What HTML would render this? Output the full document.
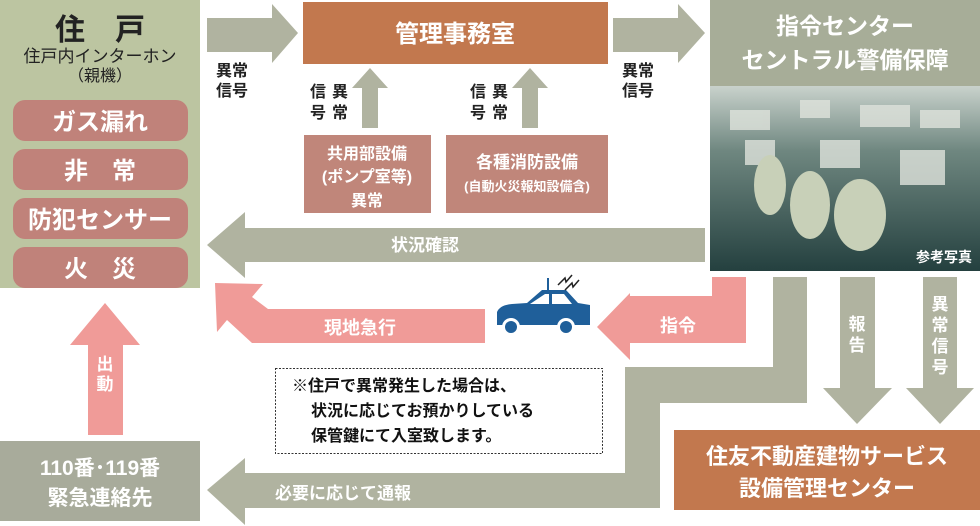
<!DOCTYPE html>
<html><head><meta charset="utf-8"><style>
html,body{margin:0;padding:0;background:#fff;}
svg{display:block;}
text{font-family:"Liberation Sans","Noto Sans CJK JP",sans-serif;font-weight:bold;}
</style></head><body>
<svg width="980" height="526" viewBox="0 0 980 526" xmlns="http://www.w3.org/2000/svg">
<defs>
<linearGradient id="ph" x1="0" y1="0" x2="0" y2="1">
<stop offset="0" stop-color="#c9d2cc"/><stop offset="0.35" stop-color="#6f8780"/><stop offset="1" stop-color="#24403f"/>
</linearGradient>
</defs>
<rect x="0" y="0" width="200" height="288" fill="#bcc5a1"/>
<text x="100" y="40" font-size="30" text-anchor="middle" fill="#222">住　戸</text>
<text x="100" y="62" font-size="17" text-anchor="middle" fill="#222" style="font-weight:normal">住戸内インターホン</text>
<text x="100" y="81" font-size="16" text-anchor="middle" fill="#222" style="font-weight:normal">（親機）</text>
<g fill="#c0827a">
<rect x="13" y="100" width="175" height="41" rx="12"/>
<rect x="13" y="149" width="175" height="41" rx="12"/>
<rect x="13" y="198" width="175" height="41" rx="12"/>
<rect x="13" y="247" width="175" height="41" rx="12"/>
</g>
<g fill="#fff" font-size="24" text-anchor="middle">
<text x="100" y="130">ガス漏れ</text>
<text x="100" y="179">非　常</text>
<text x="100" y="228">防犯センサー</text>
<text x="100" y="277">火　災</text>
</g>
<g fill="#b0b3a0">
<polygon points="207,18 272,18 272,4 298,33 272,63 272,52 207,52"/>
<polygon points="613,18 678,18 678,4 705,33 678,63 678,52 613,52"/>
<polygon points="362,128 362,88 352,88 370,68 388,88 378,88 378,128"/>
<polygon points="522,128 522,88 512,88 530,68 548,88 538,88 538,128"/>
<polygon points="705,228 245,228 245,212 207,245 245,278 245,262 705,262"/>
<polygon points="773,277 807,277 807,403 660,403 660,508 245,508 245,525 207,490 245,458 245,473 625,473 625,367 773,367"/>
<polygon points="840,277 875,277 875,388 892,388 857,424 823,388 840,388"/>
<polygon points="923,277 957,277 957,388 974,388 940,424 906,388 923,388"/>
</g>
<g font-size="16" fill="#222">
<text x="216" y="76">異常</text><text x="216" y="96">信号</text>
<text x="622" y="76">異常</text><text x="622" y="96">信号</text>
<text x="310" y="97">信</text><text x="332" y="97">異</text>
<text x="310" y="118">号</text><text x="332" y="118">常</text>
<text x="470" y="97">信</text><text x="492" y="97">異</text>
<text x="470" y="118">号</text><text x="492" y="118">常</text>
</g>
<rect x="303" y="2" width="305" height="62" fill="#c2784e"/>
<text x="455" y="42" font-size="24" fill="#fff" text-anchor="middle">管理事務室</text>
<rect x="304" y="135" width="127" height="78" fill="#c0867a"/>
<g fill="#fff" font-size="16" text-anchor="middle">
<text x="367" y="159">共用部設備</text>
<text x="367" y="182">(ポンプ室等)</text>
<text x="367" y="206">異常</text>
</g>
<rect x="446" y="135" width="162" height="78" fill="#c0867a"/>
<text x="527" y="168" fill="#fff" font-size="17" text-anchor="middle">各種消防設備</text>
<text x="527" y="191" fill="#fff" font-size="13" text-anchor="middle">(自動火災報知設備含)</text>
<text x="425" y="251" fill="#fff" font-size="17" text-anchor="middle">状況確認</text>
<rect x="710" y="0" width="270" height="86" fill="#a7ad98"/>
<text x="845" y="34" font-size="23" fill="#fff" text-anchor="middle">指令センター</text>
<text x="845" y="68" font-size="23" fill="#fff" text-anchor="middle">セントラル警備保障</text>
<rect x="710" y="86" width="270" height="185" fill="url(#ph)"/>
<g fill="#dfe3dc" opacity="0.8">
<rect x="730" y="110" width="40" height="20"/><rect x="800" y="100" width="30" height="18"/><rect x="860" y="105" width="50" height="22"/><rect x="920" y="110" width="40" height="18"/>
<rect x="745" y="140" width="30" height="25"/><rect x="820" y="140" width="40" height="28"/><rect x="900" y="150" width="45" height="35"/>
</g>
<g fill="#c8d0b8"><ellipse cx="770" cy="185" rx="16" ry="30"/><ellipse cx="810" cy="205" rx="20" ry="34"/><ellipse cx="860" cy="215" rx="26" ry="36"/></g>
<text x="972" y="262" font-size="14" fill="#fff" text-anchor="end">参考写真</text>
<g fill="#f09b98">
<polygon points="215,283 263,284 252,297 268,309 485,309 485,343 252,343 227,320 217,332"/>
<polygon points="712,277 746,277 746,343 630,343 630,360 597,327 630,293 630,296 712,296"/>
<polygon points="88,435 123,435 123,345 140,345 105,303 70,345 88,345"/>
</g>
<text x="360" y="334" fill="#fff" font-size="18" text-anchor="middle">現地急行</text>
<text x="678" y="332" fill="#fff" font-size="18" text-anchor="middle">指令</text>
<text fill="#fff" font-size="17" text-anchor="middle"><tspan x="105" y="370">出</tspan><tspan x="105" y="390">動</tspan></text>
<text fill="#fff" font-size="17" text-anchor="middle"><tspan x="857" y="330">報</tspan><tspan x="857" y="351">告</tspan></text>
<text fill="#fff" font-size="17" text-anchor="middle"><tspan x="940" y="310">異</tspan><tspan x="940" y="331">常</tspan><tspan x="940" y="352">信</tspan><tspan x="940" y="373">号</tspan></text>
<g fill="#1f5f9a">
<path d="M497,325 L497,312 Q500,305 512,304 L527,303 L542,290 L566,290 L578,303 L590,305 L590,325 Z"/>
<line x1="548" y1="290" x2="548" y2="278" stroke="#1f5f9a" stroke-width="2"/>
</g>
<polygon points="530,304 545,294 549,294 549,304" fill="#fff"/>
<polygon points="552,294 564,294 572,304 552,304" fill="#fff"/>
<circle cx="511" cy="327" r="9" fill="#fff"/><circle cx="511" cy="327" r="6" fill="#1f5f9a"/>
<circle cx="566" cy="327" r="9" fill="#fff"/><circle cx="566" cy="327" r="6" fill="#1f5f9a"/>
<path d="M558,285 L565,278 L566,282 L572,275 M565,290 L572,283 L573,287 L579,280" stroke="#222" stroke-width="1.5" fill="none"/>
<rect x="275.5" y="368.5" width="327" height="85" fill="#fff" stroke="#333" stroke-width="1" stroke-dasharray="2,1.5"/>
<g font-size="16" fill="#111">
<text x="292" y="391">※住戸で異常発生した場合は、</text>
<text x="311" y="416">状況に応じてお預かりしている</text>
<text x="311" y="441">保管鍵にて入室致します。</text>
</g>
<text x="275" y="499" fill="#fff" font-size="17">必要に応じて通報</text>
<rect x="0" y="441" width="200" height="80" fill="#a8ab9b"/>
<text x="100" y="475" fill="#fff" font-size="21" text-anchor="middle">110番･119番</text>
<text x="100" y="505" fill="#fff" font-size="21" text-anchor="middle">緊急連絡先</text>
<rect x="674" y="430" width="306" height="80" fill="#c2784e"/>
<text x="827" y="464" fill="#fff" font-size="22" text-anchor="middle">住友不動産建物サービス</text>
<text x="827" y="496" fill="#fff" font-size="22" text-anchor="middle">設備管理センター</text>
</svg>
</body></html>
